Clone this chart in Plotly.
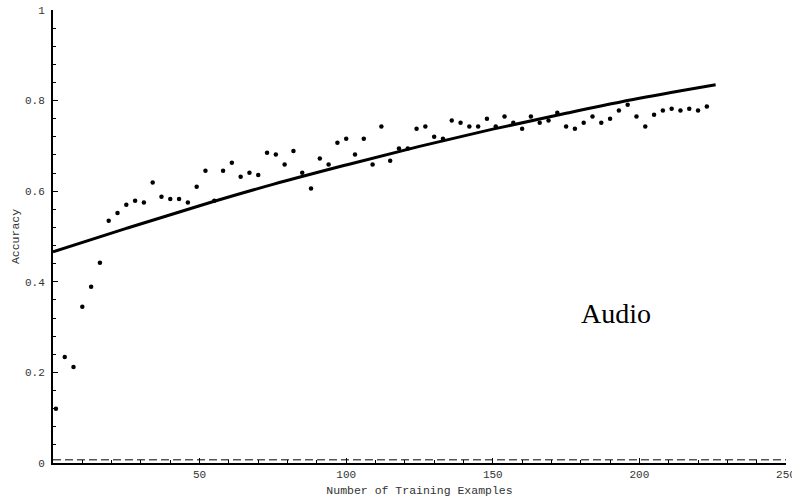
import plotly.graph_objects as go

# Observed accuracy at each training-set size
train_sizes = [1, 4, 7, 10, 13, 16, 19, 22, 25, 28, 31, 34, 37, 40, 43, 46, 49, 52, 55, 58,
               61, 64, 67, 70, 73, 76, 79, 82, 85, 88, 91, 94, 97, 100, 103, 106, 109, 112, 115, 118,
               121, 124, 127, 130, 133, 136, 139, 142, 145, 148, 151, 154, 157, 160, 163, 166, 169, 172, 175, 178,
               181, 184, 187, 190, 193, 196, 199, 202, 205, 208, 211, 214, 217, 220, 223]
accuracy = [0.120, 0.234, 0.212, 0.345, 0.389, 0.442, 0.535, 0.552, 0.570, 0.579,
            0.575, 0.619, 0.588, 0.583, 0.583, 0.575, 0.610, 0.645, 0.579, 0.645,
            0.663, 0.632, 0.641, 0.636, 0.685, 0.681, 0.659, 0.689, 0.641, 0.606,
            0.672, 0.659, 0.707, 0.716, 0.681, 0.716, 0.659, 0.743, 0.667, 0.694,
            0.694, 0.738, 0.743, 0.720, 0.716, 0.756, 0.751, 0.743, 0.743, 0.760,
            0.743, 0.765, 0.751, 0.738, 0.765, 0.751, 0.756, 0.773, 0.743, 0.738,
            0.751, 0.765, 0.751, 0.760, 0.778, 0.791, 0.765, 0.743, 0.769, 0.778,
            0.782, 0.778, 0.782, 0.778, 0.787]

# Fitted learning curve
fit_x = [0, 25, 50, 75, 100, 125, 150, 175, 200, 226]
fit_y = [0.466, 0.518, 0.568, 0.615, 0.658, 0.699, 0.737, 0.772, 0.805, 0.835]

# Chance baseline
baseline_x = [0, 250]
baseline_y = [0.007, 0.007]

x_ticks = [50, 100, 150, 200, 250]
y_ticks = [0, 0.2, 0.4, 0.6, 0.8, 1]
y_tick_text = ["0", "0.2", "0.4", "0.6", "0.8", "1"]

mono = "Liberation Mono, Courier New, monospace"

fig = go.Figure()
fig.add_trace(go.Scatter(x=baseline_x, y=baseline_y, mode="lines",
                         line=dict(color="black", width=1, dash="8px,4px"),
                         hoverinfo="skip", showlegend=False))
fig.add_trace(go.Scatter(x=fit_x, y=fit_y, mode="lines",
                         line=dict(color="black", width=3, shape="spline"),
                         showlegend=False))
fig.add_trace(go.Scatter(x=train_sizes, y=accuracy, mode="markers",
                         marker=dict(color="black", size=4.5),
                         showlegend=False))

fig.add_annotation(x=192.0, y=0.329, text="Audio", showarrow=False,
                   font=dict(family="Liberation Serif, Times New Roman, serif", size=28, color="black"))

fig.update_layout(
    width=792, height=500,
    margin=dict(l=53, r=6, t=10, b=37),
    paper_bgcolor="white", plot_bgcolor="white",
    xaxis=dict(range=[0, 250], tickvals=x_ticks, showgrid=False, zeroline=False,
               showline=True, linecolor="black", linewidth=2,
               ticks="inside", ticklen=5, tickcolor="black", tickwidth=1,
               minor=dict(dtick=10, ticks="inside", ticklen=3, tickcolor="black", tickwidth=1),
               tickfont=dict(family=mono, size=11, color="#333"),
               ticklabeloverflow="allow", automargin=False,
               title=dict(text="Number of Training Examples", standoff=6,
                          font=dict(family=mono, size=11.5, color="#333"))),
    yaxis=dict(range=[0, 1], tickvals=y_ticks, ticktext=y_tick_text, showgrid=False, zeroline=False,
               showline=True, linecolor="black", linewidth=2,
               ticks="inside", ticklen=5, tickcolor="black", tickwidth=1,
               minor=dict(dtick=0.04, ticks="inside", ticklen=3, tickcolor="black", tickwidth=1),
               tickfont=dict(family=mono, size=11, color="#333"),
               ticklabelstandoff=4, automargin=False,
               title=dict(text="Accuracy", standoff=3,
                          font=dict(family=mono, size=11.5, color="#333"))),
)

fig.write_html("out.html")
